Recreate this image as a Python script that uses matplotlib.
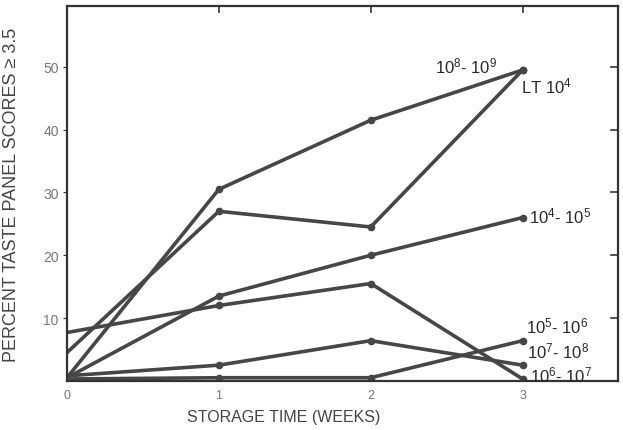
import numpy as np
import matplotlib.pyplot as plt

weeks = [0, 1, 2, 3]
lt_1e4 = [4.5, 27.0, 24.5, 49.5]
e8_e9 = [0.5, 30.5, 41.5, 49.5]
e4_e5 = [0.5, 13.5, 20.0, 26.0]
e6_e7 = [7.7, 12.0, 15.5, 0.3]
e7_e8 = [0.8, 2.5, 6.4, 2.5]
e5_e6 = [0.3, 0.5, 0.5, 6.4]

series = [e8_e9, lt_1e4, e4_e5, e6_e7, e7_e8, e5_e6]
labels = [(r'$10^8$- $10^9$', 2.42, 50.2),
          (r'LT $10^4$', 2.99, 47.0),
          (r'$10^4$- $10^5$', 3.04, 26.3),
          (r'$10^5$- $10^6$', 3.02, 8.9),
          (r'$10^7$- $10^8$', 3.03, 4.8),
          (r'$10^6$- $10^7$', 3.05, 1.0)]

plt.rcParams['font.family'] = ['Liberation Sans', 'DejaVu Sans']
plt.rcParams['mathtext.fontset'] = 'custom'
plt.rcParams['mathtext.rm'] = 'Liberation Sans'
plt.rcParams['mathtext.it'] = 'Liberation Sans'

fig = plt.figure(figsize=(6.23, 4.31), dpi=100)
ax = fig.add_axes([0.1075, 0.114, 0.885, 0.87])

line_col = '#464646'
for s in series:
    ax.plot(weeks, s, color=line_col, lw=2.6, marker='o', ms=4.5,
            markevery=[1, 2, 3], solid_capstyle='round')

for txt, x, y in labels:
    ax.text(x, y, txt, fontsize=12, color='#2a2a2a', va='center', ha='left')

ax.set_xlim(0, 3.63)
ax.set_ylim(0, 59.7)
ax.set_xticks(weeks)
ax.set_yticks([10, 20, 30, 40, 50])
ax.tick_params(axis='x', length=0, labelsize=9, labelcolor='#777777', pad=6)
ax.tick_params(axis='y', direction='out', length=3, labelsize=10, labelcolor='#777777',
               color='#333333', pad=3)

# inward ticks on top and right
for x in [1, 2, 3]:
    ax.plot([x, x], [59.7, 58.7], color='#333333', lw=1.2, clip_on=False)
for y in [10, 20, 30, 40, 50]:
    ax.plot([3.63, 3.58], [y, y], color='#333333', lw=1.2, clip_on=False)

for sp in ax.spines.values():
    sp.set_linewidth(1.6)
    sp.set_color('#333333')

ax.set_xlabel('STORAGE TIME (WEEKS)', fontsize=11.5, color='#444444')
ax.xaxis.set_label_coords(0.393, -0.075)
ax.set_ylabel('PERCENT TASTE PANEL SCORES ≥ 3.5', fontsize=13, color='#444444')
ax.yaxis.set_label_coords(-0.085, 0.5)

plt.savefig('out.png', dpi=100)
